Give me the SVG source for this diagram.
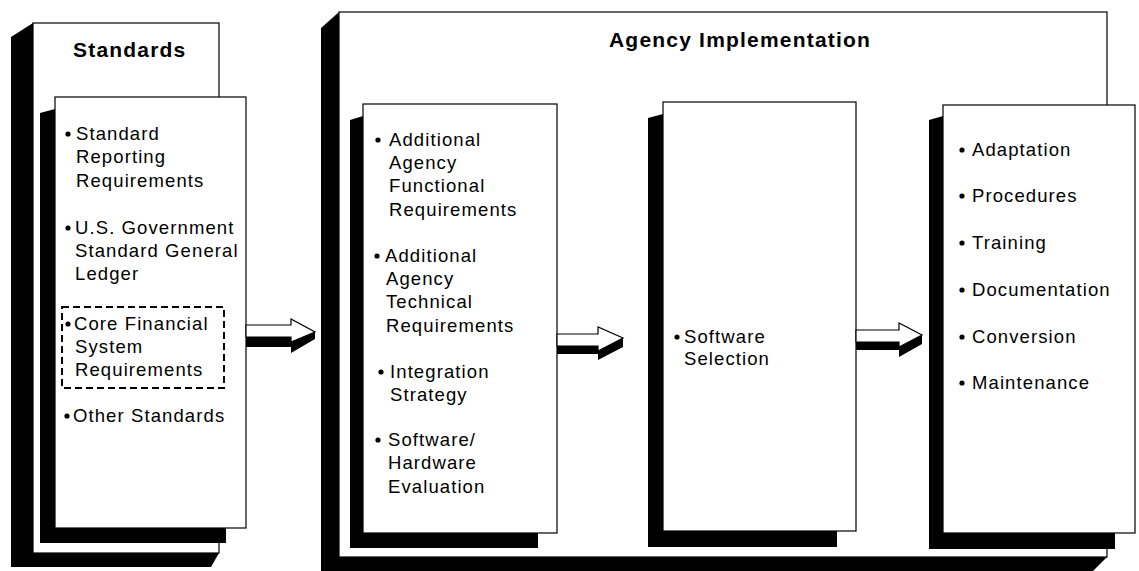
<svg xmlns="http://www.w3.org/2000/svg" width="1139" height="571" viewBox="0 0 1139 571">
<style>
.sh{fill:#000}
.pn{fill:#fff;stroke:#000;stroke-width:1.2}
.t{font-family:"Liberation Sans",Arial,sans-serif;font-size:18.5px;letter-spacing:1.1px;fill:#000}
.h{font-family:"Liberation Sans",Arial,sans-serif;font-size:21px;font-weight:bold;letter-spacing:1.2px;fill:#000}
.b{fill:#000}
.dash{fill:none;stroke:#000;stroke-width:2;stroke-dasharray:7,4}
.aw{fill:#fff;stroke:#000;stroke-width:1.2;stroke-linejoin:miter}
.ab{fill:#000}
</style>
<rect width="1139" height="571" fill="#fff"/>

<g id="standards">
  <polygon class="sh" points="33,23 11,37 11,567 211,567 219,553"/>
  <rect class="pn" x="33" y="23" width="186" height="530"/>
  <text class="h" x="73" y="57">Standards</text>
</g>

<g id="standards-list">
  <polygon class="sh" points="40,113 55,109 55,528 226,528 226,543 40,543"/>
  <rect class="pn" x="55" y="97" width="191" height="431"/>
  <circle class="b" cx="68" cy="134" r="2.6"/>
  <text class="t" x="76" y="140">Standard</text>
  <text class="t" x="76" y="163">Reporting</text>
  <text class="t" x="76" y="187">Requirements</text>
  <circle class="b" cx="68" cy="228" r="2.6"/>
  <text class="t" x="75" y="234">U.S. Government</text>
  <text class="t" x="75" y="257">Standard General</text>
  <text class="t" x="75" y="280">Ledger</text>
  <rect class="dash" x="62" y="307" width="162" height="81"/>
  <circle class="b" cx="68" cy="324" r="2.6"/>
  <text class="t" x="74" y="330">Core Financial</text>
  <text class="t" x="75" y="353">System</text>
  <text class="t" x="75" y="376">Requirements</text>
  <circle class="b" cx="67" cy="416" r="2.6"/>
  <text class="t" x="73" y="422">Other Standards</text>
</g>

<g id="agency">
  <polygon class="sh" points="339,12 321,28 321,571 1093,571 1107,557"/>
  <rect class="pn" x="339" y="12" width="768" height="545"/>
  <text class="h" x="609" y="47">Agency Implementation</text>
</g>

<g id="requirements">
  <polygon class="sh" points="350,120 363,116 363,533 538,533 538,548 350,548"/>
  <rect class="pn" x="363" y="104" width="194" height="429"/>
  <circle class="b" cx="378" cy="140" r="2.6"/>
  <text class="t" x="389" y="146">Additional</text>
  <text class="t" x="389" y="169">Agency</text>
  <text class="t" x="389" y="192">Functional</text>
  <text class="t" x="389" y="216">Requirements</text>
  <circle class="b" cx="377" cy="256" r="2.6"/>
  <text class="t" x="385" y="262">Additional</text>
  <text class="t" x="386" y="285">Agency</text>
  <text class="t" x="386" y="308">Technical</text>
  <text class="t" x="386" y="332">Requirements</text>
  <circle class="b" cx="381" cy="372" r="2.6"/>
  <text class="t" x="390" y="378">Integration</text>
  <text class="t" x="390" y="401">Strategy</text>
  <circle class="b" cx="378" cy="440" r="2.6"/>
  <text class="t" x="388" y="446">Software/</text>
  <text class="t" x="388" y="469">Hardware</text>
  <text class="t" x="388" y="493">Evaluation</text>
</g>

<g id="selection">
  <polygon class="sh" points="648,118 663,114 663,531 837,531 837,547 648,547"/>
  <rect class="pn" x="663" y="102" width="193" height="429"/>
  <circle class="b" cx="677" cy="337" r="2.6"/>
  <text class="t" x="684" y="343">Software</text>
  <text class="t" x="684" y="365">Selection</text>
</g>

<g id="deployment">
  <polygon class="sh" points="929,120 943,116 943,533 1115,533 1115,549 929,549"/>
  <rect class="pn" x="943" y="105" width="192" height="428"/>
  <circle class="b" cx="962" cy="150" r="2.6"/>
  <text class="t" x="972" y="156">Adaptation</text>
  <circle class="b" cx="962" cy="196" r="2.6"/>
  <text class="t" x="972" y="202">Procedures</text>
  <circle class="b" cx="962" cy="243" r="2.6"/>
  <text class="t" x="972" y="249">Training</text>
  <circle class="b" cx="962" cy="290" r="2.6"/>
  <text class="t" x="972" y="296">Documentation</text>
  <circle class="b" cx="962" cy="337" r="2.6"/>
  <text class="t" x="972" y="343">Conversion</text>
  <circle class="b" cx="962" cy="383" r="2.6"/>
  <text class="t" x="972" y="389">Maintenance</text>
</g>

<g id="connectors">
  <g transform="translate(246,325)">
    <polygon class="ab" points="0,12 45,12 45,17 69,7 69,14 45,28 45,22 0,22"/>
    <polygon class="aw" points="0,0 45,0 45,-6 69,7 45,17 45,12 0,12"/>
  </g>
  <g transform="translate(557,334)">
    <polygon class="ab" points="0,12 41,12 41,17 66,4 66,13 41,26 41,20 0,20"/>
    <polygon class="aw" points="0,0 41,0 41,-7 66,4 41,17 41,12 0,12"/>
  </g>
  <g transform="translate(856,330)">
    <polygon class="ab" points="0,12 43,12 43,17 66,5 66,14 43,27 43,20 0,20"/>
    <polygon class="aw" points="0,0 43,0 43,-7 66,5 43,17 43,12 0,12"/>
  </g>
</g>
</svg>
